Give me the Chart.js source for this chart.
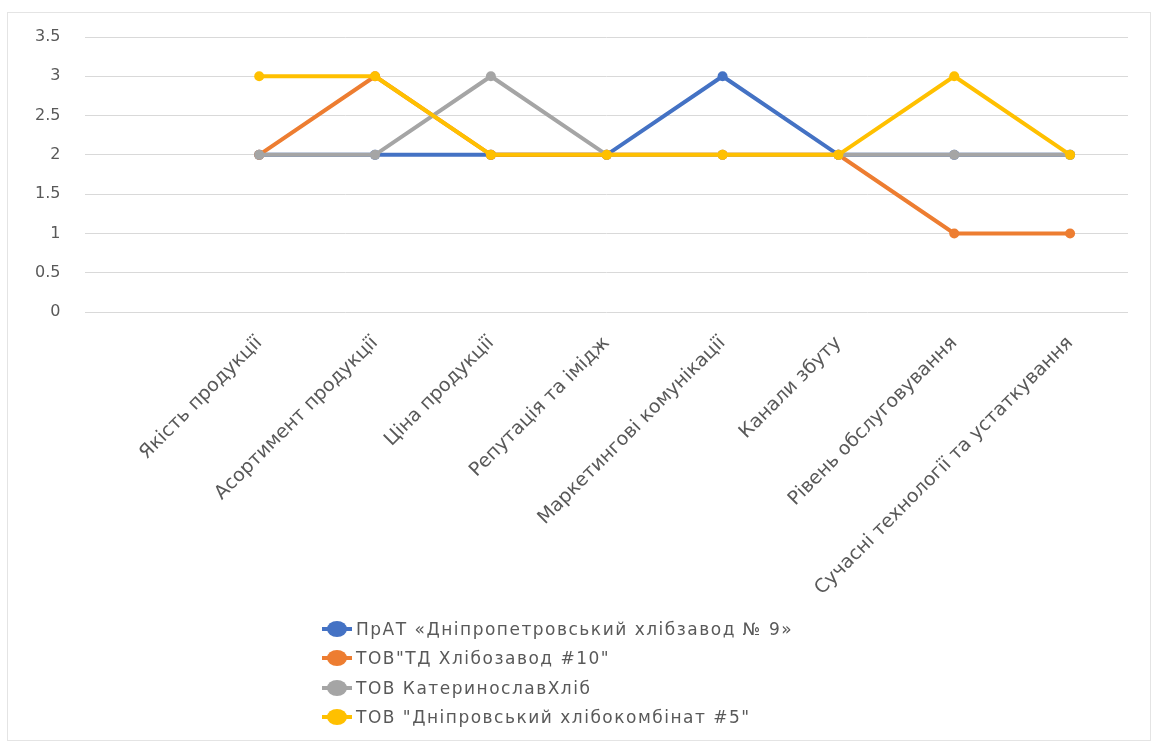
<!DOCTYPE html>
<html>
<head>
<meta charset="utf-8">
<script src="https://cdn.jsdelivr.net/npm/chart.js@4.4.1/dist/chart.umd.min.js"></script>
<style>
  body { margin: 0; background: #fff; }
  #wrap { position: relative; width: 1154px; height: 746px; }
  #frame { position: absolute; left: 7px; top: 12px; width: 1142px; height: 727px; border: 1px solid #e4e4e4; pointer-events: none; }
  #legend { position: absolute; left: 322px; top: 614px; font-family: "DejaVu Sans", sans-serif; font-size: 17px; letter-spacing: 1.5px; color: #595959; }
  .row { height: 29.5px; display: flex; align-items: center; white-space: nowrap; }
  .mk { position: relative; width: 30px; height: 16px; margin-right: 4px; }
  .mk .ln { position: absolute; left: 0; right: 0; top: 6px; height: 4px; }
  .mk .dot { position: absolute; left: 5px; top: 0; width: 20px; height: 16px; border-radius: 50%; }
</style>
</head>
<body>
<div id="wrap">
  <canvas id="chart" width="1154" height="746"></canvas>
  <div id="frame"></div>
  <div id="legend"></div>
</div>
<script>
// first category is empty in the original chart
const categories = ['', 'Якість продукції', 'Асортимент продукції', 'Ціна продукції', 'Репутація та імідж',
  'Маркетингові комунікації', 'Канали збуту', 'Рівень обслуговування', 'Сучасні технології та устаткування'];

const seriesNames = [
  'ПрАТ «Дніпропетровський хлібзавод № 9»',
  'ТОВ"ТД Хлібозавод #10"',
  'ТОВ КатеринославХліб',
  'ТОВ "Дніпровський хлібокомбінат #5"'
];

const pratValues = [null, 2, 2, 2, 2, 3, 2, 2, 2];
const tdValues = [null, 2, 3, 2, 2, 2, 2, 1, 1];
const katerynoslavValues = [null, 2, 2, 3, 2, 2, 2, 2, 2];
const dniprovskyValues = [null, 3, 3, 2, 2, 2, 2, 3, 2];

const colors = ['#4472C4', '#ED7D31', '#A5A5A5', '#FFC000'];
const yMin = 0, yMax = 3.5, yStep = 0.5;

const allValues = [pratValues, tdValues, katerynoslavValues, dniprovskyValues];

const datasets = allValues.map((vals, i) => ({
  label: seriesNames[i],
  data: vals,
  borderColor: colors[i],
  backgroundColor: colors[i],
  borderWidth: 4,
  pointRadius: 5,
  pointHoverRadius: 5,
  pointBorderWidth: 0,
  tension: 0,
  order: 4 - i   // later series drawn on top, as in Excel
}));

new Chart(document.getElementById('chart'), {
  type: 'line',
  data: { labels: categories, datasets: datasets },
  options: {
    responsive: false,
    animation: false,
    devicePixelRatio: 1,
    layout: { padding: { left: 10, right: 26, top: 37, bottom: 120 } },
    plugins: { legend: { display: false }, tooltip: { enabled: false } },
    scales: {
      x: {
        offset: true,
        grid: { display: false },
        border: { display: false },
        afterFit: scale => { scale.height = 314; },  // room for the long rotated labels
        ticks: {
          autoSkip: false, minRotation: 45, maxRotation: 45, padding: 12,
          color: '#595959', font: { family: 'DejaVu Sans', size: 19 }
        }
      },
      y: {
        min: yMin, max: yMax,
        grid: { color: '#d9d9d9', lineWidth: 1, drawTicks: false },
        border: { display: false },
        ticks: {
          stepSize: yStep, padding: 25,
          color: '#595959', font: { family: 'DejaVu Sans', size: 16 },
          callback: v => String(v)
        }
      }
    }
  }
});

// legend as in the original: one series per row
const legend = document.getElementById('legend');
seriesNames.forEach((name, i) => {
  const row = document.createElement('div');
  row.className = 'row';
  row.innerHTML = '<span class="mk"><span class="ln" style="background:' + colors[i] + '"></span>' +
    '<span class="dot" style="background:' + colors[i] + '"></span></span><span>' + name + '</span>';
  legend.appendChild(row);
});
</script>
</body>
</html>
